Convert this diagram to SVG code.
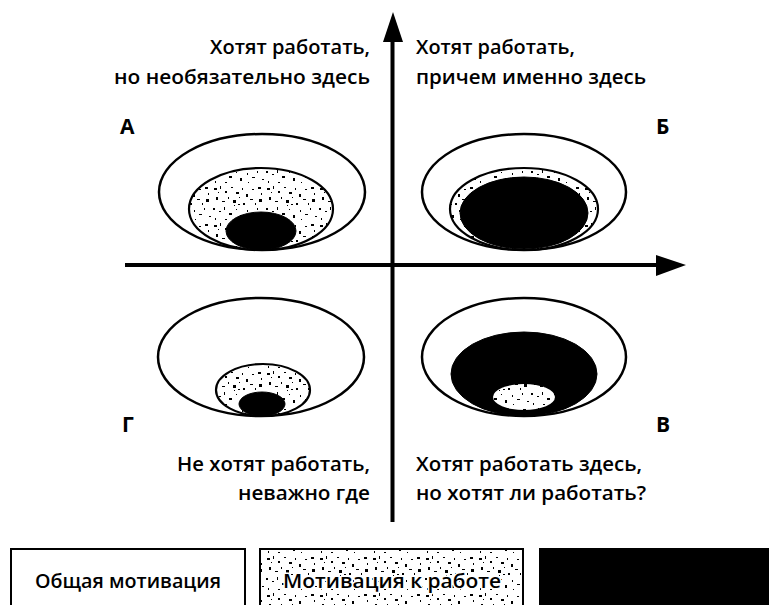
<svg xmlns="http://www.w3.org/2000/svg" width="769" height="605" viewBox="0 0 769 605">
<style>
  .lbl { font-family: "Open Sans", "DejaVu Sans", sans-serif; font-size: 20px; font-weight: 600; fill: #000; }
  .q { font-family: "Open Sans", "DejaVu Sans", sans-serif; font-size: 21px; font-weight: bold; fill: #000; }
  .outer { fill: #fff; stroke: #000; stroke-width: 2.5; }
  .spk { fill: url(#speckle); stroke: #000; stroke-width: 2.2; }
  .spk2 { fill: url(#speckle); stroke: none; }
  .blk { fill: #000; stroke: #000; stroke-width: 1; }
  .axis { stroke: #000; stroke-width: 4; fill: none; }
  .halo { paint-order: stroke; stroke: #fff; stroke-width: 3px; stroke-linejoin: round; }
</style>
<defs>
  <pattern id="speckle" patternUnits="userSpaceOnUse" width="53" height="37">
    <rect width="53" height="37" fill="#fff"/>
    <g fill="#000">
      <rect x="2" y="3" width="3" height="2"/><rect x="8" y="1" width="1" height="3"/><rect x="13" y="6" width="2" height="2"/>
      <rect x="19" y="2" width="2" height="1"/><rect x="24" y="7" width="3" height="2"/><rect x="30" y="3" width="1" height="2"/>
      <rect x="34" y="9" width="2" height="3"/><rect x="40" y="4" width="2" height="1"/><rect x="46" y="2" width="3" height="2"/>
      <rect x="49" y="8" width="1" height="2"/><rect x="4" y="12" width="2" height="3"/><rect x="10" y="16" width="3" height="1"/>
      <rect x="16" y="12" width="1" height="2"/><rect x="21" y="15" width="3" height="3"/><rect x="27" y="12" width="1" height="1"/>
      <rect x="31" y="18" width="2" height="2"/><rect x="38" y="14" width="3" height="1"/><rect x="43" y="18" width="1" height="2"/>
      <rect x="47" y="14" width="3" height="3"/><rect x="1" y="23" width="2" height="2"/><rect x="7" y="26" width="2" height="1"/>
      <rect x="12" y="22" width="1" height="3"/><rect x="17" y="28" width="3" height="2"/><rect x="24" y="24" width="1" height="1"/>
      <rect x="28" y="30" width="2" height="3"/><rect x="35" y="25" width="1" height="2"/><rect x="40" y="29" width="3" height="1"/>
      <rect x="45" y="23" width="1" height="2"/><rect x="50" y="31" width="2" height="1"/><rect x="3" y="33" width="1" height="2"/>
      <rect x="13" y="34" width="2" height="1"/><rect x="36" y="34" width="1" height="1"/><rect x="22" y="20" width="1" height="1"/>
      <rect x="26" y="19" width="2" height="1"/><rect x="6" y="7" width="1" height="1"/>
    </g>
  </pattern>
</defs>
<rect width="769" height="605" fill="#fff"/>

<g id="connectors">
  <line class="axis" x1="392.5" y1="38" x2="392.5" y2="522"/>
  <polygon points="393,12 383,42 403,42" fill="#000"/>
  <line class="axis" x1="125" y1="265" x2="660" y2="265"/>
  <polygon points="686,265 656,255 656,276" fill="#000"/>
</g>

<g id="quadrant-A">
  <ellipse class="outer" cx="262" cy="192" rx="103" ry="58"/>
  <ellipse class="spk" cx="261" cy="209" rx="72" ry="41"/>
  <ellipse class="blk" cx="261" cy="231" rx="35" ry="19"/>
  <text class="q" x="120" y="134">А</text>
</g>

<g id="quadrant-B">
  <ellipse class="outer" cx="524" cy="192" rx="102" ry="58"/>
  <ellipse class="spk" cx="524" cy="209" rx="74" ry="41"/>
  <ellipse class="blk" cx="524" cy="213" rx="64" ry="36"/>
  <text class="q" x="656" y="134">Б</text>
</g>

<g id="quadrant-G">
  <ellipse class="outer" cx="261" cy="357" rx="103" ry="59"/>
  <ellipse class="spk" cx="263" cy="390" rx="47" ry="26"/>
  <ellipse class="blk" cx="262" cy="404" rx="23" ry="12"/>
  <text class="q" x="122" y="432">Г</text>
</g>

<g id="quadrant-V">
  <ellipse class="outer" cx="524" cy="357" rx="102" ry="59"/>
  <ellipse class="blk" cx="524" cy="374" rx="73" ry="42"/>
  <ellipse class="spk2" cx="524" cy="397" rx="31" ry="13"/>
  <text class="q" x="656" y="432">В</text>
</g>

<g id="text-top-left">
  <text class="lbl" x="370" y="54" text-anchor="end" textLength="160" lengthAdjust="spacingAndGlyphs">Хотят работать,</text>
  <text class="lbl" x="370" y="84" text-anchor="end" textLength="256" lengthAdjust="spacingAndGlyphs">но необязательно здесь</text>
</g>
<g id="text-top-right">
  <text class="lbl" x="416" y="54" textLength="159" lengthAdjust="spacingAndGlyphs">Хотят работать,</text>
  <text class="lbl" x="416" y="84" textLength="230" lengthAdjust="spacingAndGlyphs">причем именно здесь</text>
</g>
<g id="text-bottom-left">
  <text class="lbl" x="370" y="471" text-anchor="end" textLength="193" lengthAdjust="spacingAndGlyphs">Не хотят работать,</text>
  <text class="lbl" x="370" y="500" text-anchor="end" textLength="132" lengthAdjust="spacingAndGlyphs">неважно где</text>
</g>
<g id="text-bottom-right">
  <text class="lbl" x="416" y="471" textLength="226" lengthAdjust="spacingAndGlyphs">Хотят работать здесь,</text>
  <text class="lbl" x="416" y="500" textLength="230" lengthAdjust="spacingAndGlyphs">но хотят ли работать?</text>
</g>

<g id="legend-general">
  <rect x="11" y="549" width="234" height="60" fill="#fff" stroke="#000" stroke-width="2"/>
  <text class="lbl" x="128" y="588" text-anchor="middle" textLength="186" lengthAdjust="spacingAndGlyphs">Общая мотивация</text>
</g>
<g id="legend-work">
  <rect x="260" y="549" width="263" height="60" fill="url(#speckle)" stroke="#000" stroke-width="2"/>
  <text class="lbl halo" x="392" y="588" text-anchor="middle" textLength="218" lengthAdjust="spacingAndGlyphs">Мотивация к работе</text>
</g>
<g id="legend-black">
  <rect x="539" y="548" width="230" height="57" fill="#000"/>
</g>
</svg>
